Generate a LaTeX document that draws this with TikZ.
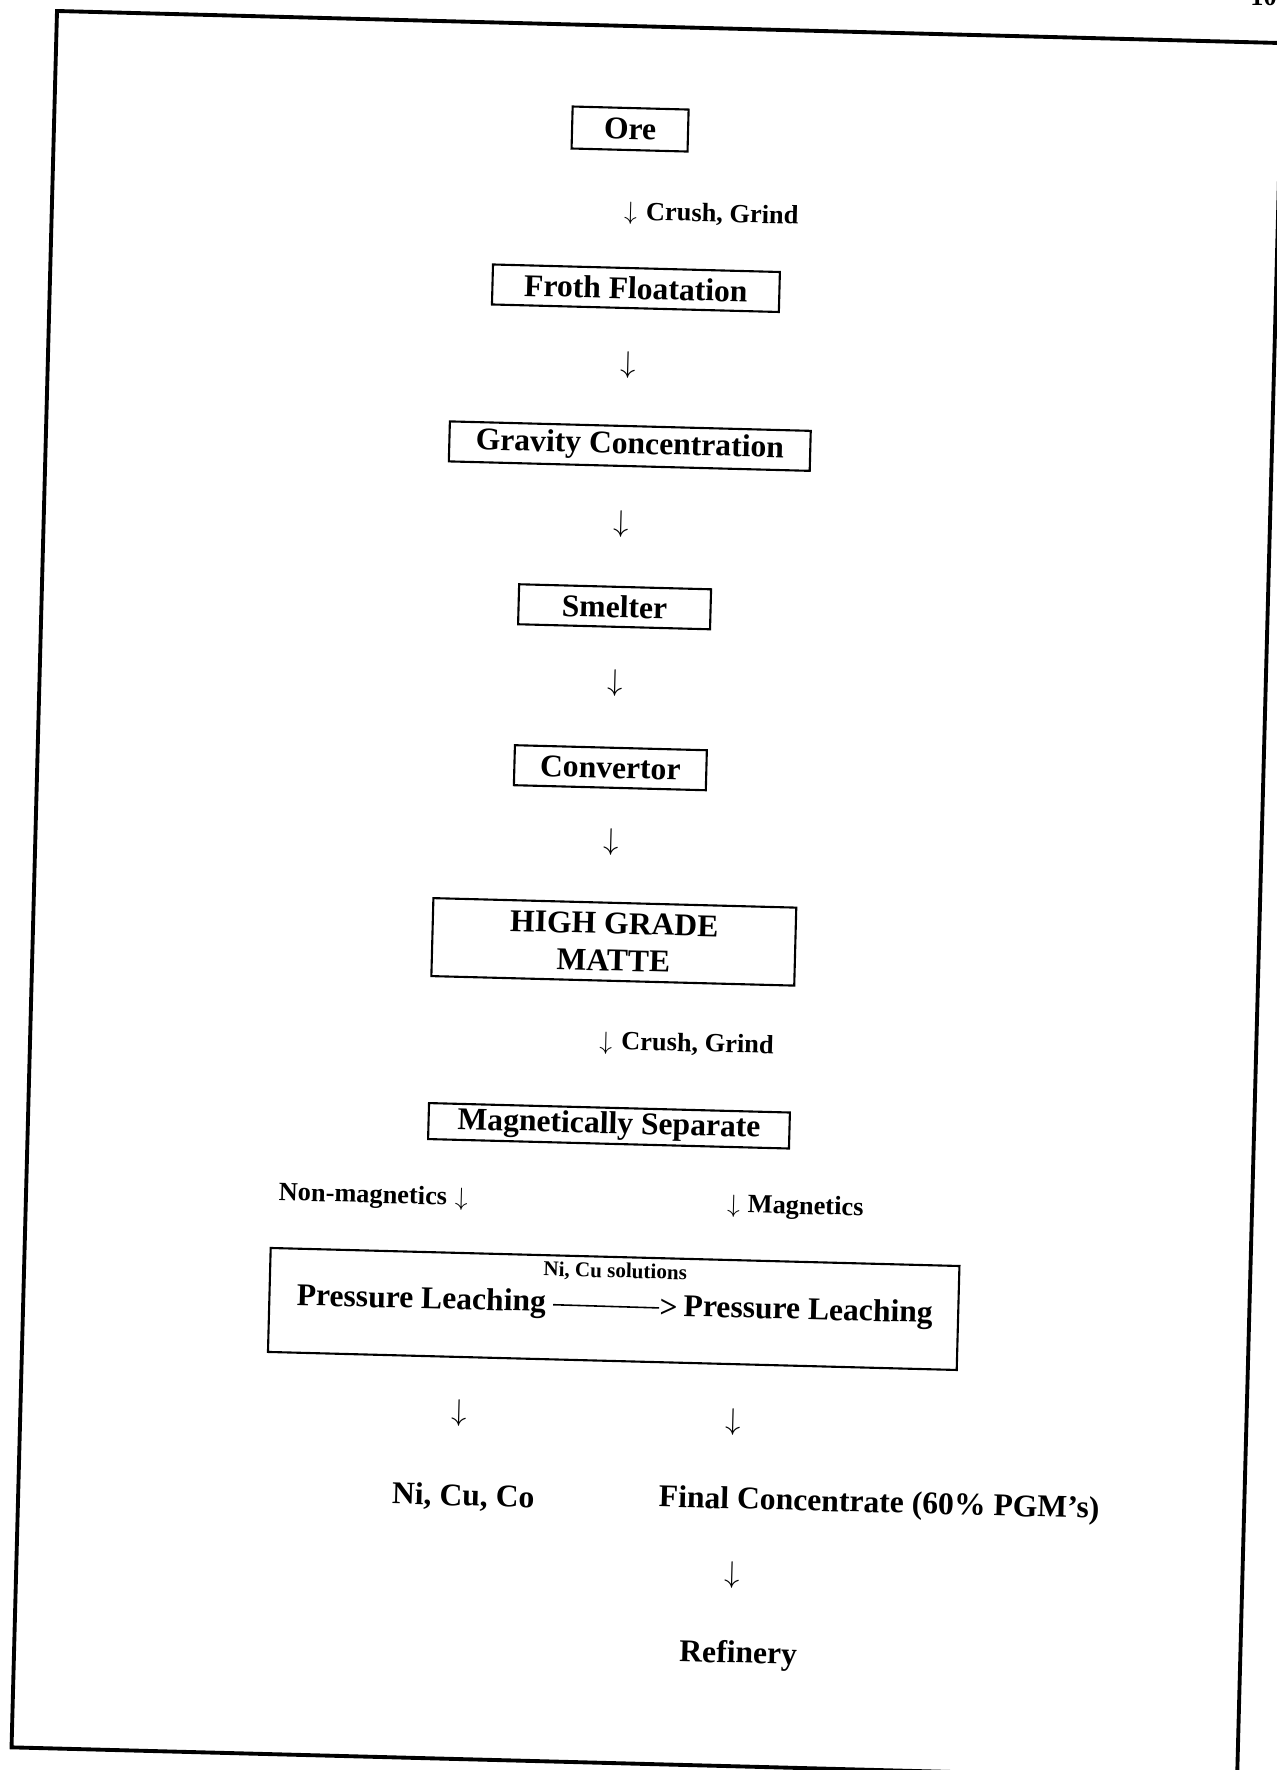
\documentclass[tikz,border=0pt]{standalone}
\usepackage{fontspec}
\setmainfont{Liberation Serif}
\usetikzlibrary{positioning}

\tikzset{
  stage/.style={draw, line width=1.2pt, inner sep=0pt, align=center,
    font=\bfseries\fontsize{18}{21}\selectfont},
  plain/.style={inner sep=0pt, font=\bfseries\fontsize{18}{21}\selectfont},
  side/.style={inner sep=0pt, font=\bfseries\fontsize{15}{18}\selectfont},
  flow/.style={inner sep=0pt, font=\fontsize{18}{21}\selectfont},
}

\begin{document}
\begin{tikzpicture}[x=0.02cm, y=-0.02cm]
\def\px{0.02cm} % one pixel of the page
\useasboundingbox (0,0) rectangle (1276,1770);

% page number, cut off by the top edge
\node[side, anchor=base west] (pageno) at (1250,6) {10};

% the page is scanned a little askew
\begin{scope}[shift={(57,11)}, rotate=-1.5, transform shape]
\draw[line width=2.2pt] (0,0) rectangle (1226,1737);

% Main chain
\node[stage, minimum width=116*\px, minimum height=42*\px] (ore) at (576,103) {Ore};
\node[side, anchor=west] (crush1) at (572,187) {$\downarrow$\hspace{0.35em}Crush, Grind};
\node[stage, minimum width=287*\px, minimum height=40*\px] (froth) at (586,262) {Froth Floatation};
\node[flow] (down1) at (580,339) {$\downarrow$};
\node[stage, minimum width=361*\px, minimum height=40*\px] (gravity) at (584,420) {Gravity Concentration};
\node[flow] (down2) at (578,498) {$\downarrow$};
\node[stage, minimum width=192*\px, minimum height=40*\px] (smelter) at (573,581) {Smelter};
\node[flow] (down3) at (576,657) {$\downarrow$};
\node[stage, minimum width=192*\px, minimum height=40*\px] (convertor) at (573,742) {Convertor};
\node[flow] (down4) at (576,816) {$\downarrow$};
\node[stage, minimum width=363*\px, minimum height=78*\px] (matte) at (581,916) {HIGH GRADE\\MATTE};
\node[side, anchor=west] (crush2) at (569,1017) {$\downarrow$\hspace{0.35em}Crush, Grind};
\node[stage, minimum width=361*\px, minimum height=36*\px] (magsep) at (581,1100) {Magnetically Separate};

% Split
\node[side, anchor=east] (nonmag) at (442,1177) {Non-magnetics\hspace{0.3em}$\downarrow$};
\node[side, anchor=west] (mag) at (701,1177) {$\downarrow$\hspace{0.3em}Magnetics};

% Leaching box
\node[draw, line width=1.2pt, minimum width=689*\px, minimum height=104*\px] (leach) at (590.5,1283) {};
\node[plain] (leach1) at (398,1280) {Pressure Leaching};
\node[plain] (leach2) at (785,1281) {Pressure Leaching};
\node[plain, left=3pt of leach2] (tip) {>};
\draw[line width=0.9pt, shorten <=4pt] (leach1) -- (tip);
\node[inner sep=0pt, font=\bfseries\fontsize{12}{14}\selectfont] (sol) at (591,1246) {Ni, Cu solutions};

% Products
\node[flow] (down5) at (439,1391) {$\downarrow$};
\node[flow] (down6) at (713,1393) {$\downarrow$};
\node[plain] (metals) at (445,1475) {Ni, Cu, Co};
\node[plain] (final) at (861,1472) {Final Concentrate (60\% PGM's)};
\node[flow] (down7) at (716,1546) {$\downarrow$};
\node[plain] (refinery) at (724,1626) {Refinery};
\end{scope}
\end{tikzpicture}
\end{document}
